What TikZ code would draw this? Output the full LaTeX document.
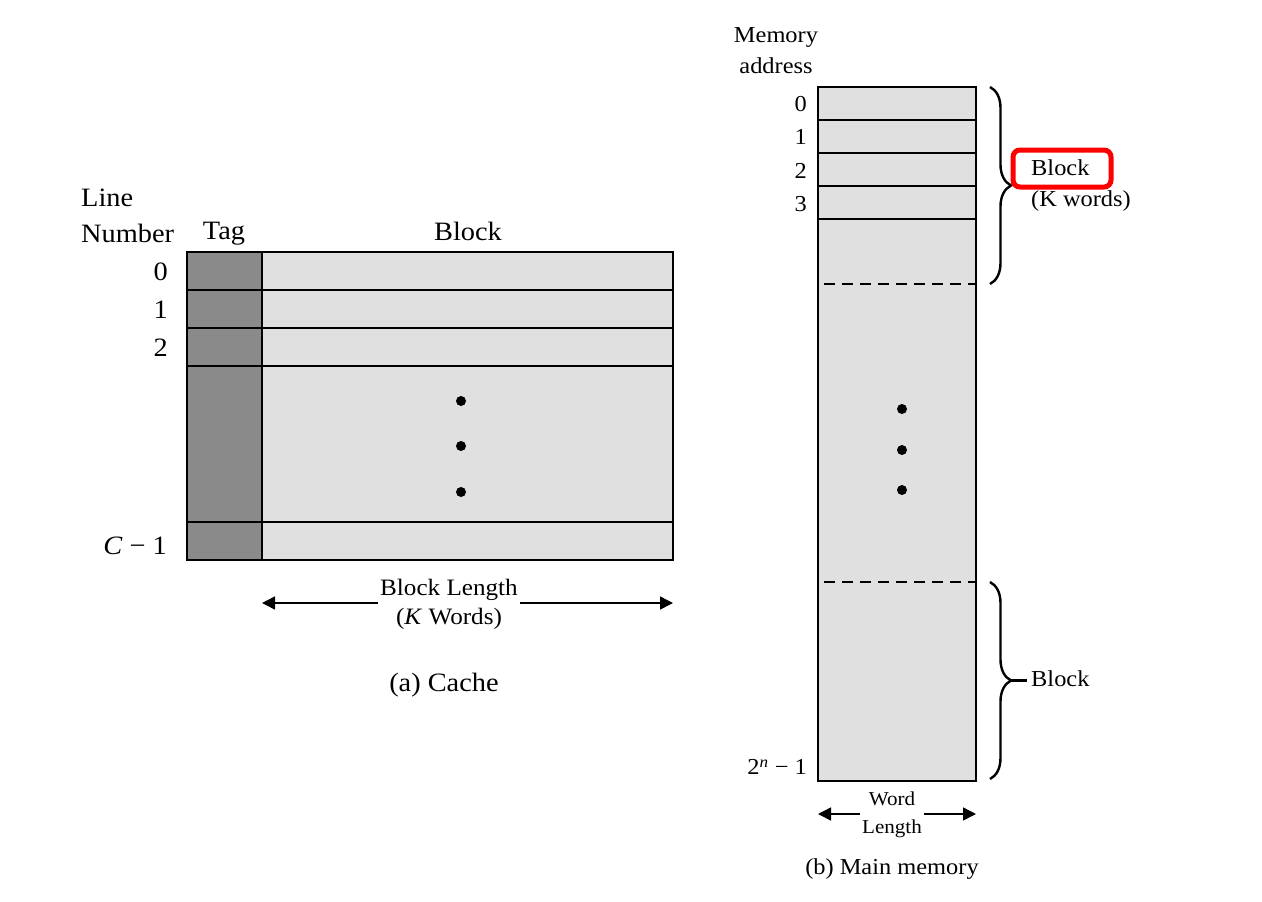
\documentclass[tikz,border=0pt]{standalone}
\usepackage{fontspec}
\setmainfont{Liberation Serif}[FakeStretch=1.07]
\usetikzlibrary{arrows.meta,decorations.pathreplacing}
\definecolor{tagfill}{HTML}{8A8A8A}
\definecolor{cellfill}{HTML}{E0E0E0}
\begin{document}
\begin{tikzpicture}[x=1pt,y=-1pt,
  cell/.style={draw=black,line width=1.5pt,fill=cellfill},
  tagcell/.style={draw=black,line width=1.5pt,fill=tagfill},
  sep/.style={draw=black,line width=1.5pt},
  dashsep/.style={draw=black,line width=1.3pt,dash pattern=on 11pt off 7pt},
  dotmark/.style={fill=black},
  lbl/.style={inner sep=1pt,font=\fontsize{26.5}{36}\selectfont},
  mlbl/.style={inner sep=1pt,font=\fontsize{22.8}{31}\selectfont},
  bllbl/.style={inner sep=2pt,font=\fontsize{23.5}{29}\selectfont},
  slbl/.style={inner sep=2pt,font=\fontsize{19.7}{28}\selectfont},
  dimarrow/.style={line width=1.5pt,-{Triangle[length=13pt,width=13pt]}},
  bracestyle/.style={line width=2.4pt,decorate,decoration={brace,amplitude=21pt}}
]
\useasboundingbox (0,0) rectangle (1262,902);

% ---------- Cache ----------
\path[cell] (262,252) rectangle (673,560);
\path[tagcell] (187,252) rectangle (262,560);
\foreach \yy in {290,328,366,522}{
  \draw[sep] (187,\yy) -- (673,\yy);
}
\foreach \yy in {401,446,492}{
  \fill[dotmark] (461,\yy) circle (5);
}
\node[lbl,anchor=west,align=left] (linenum) at (80,216) {Line\\Number};
\node[lbl] (taglbl) at (224,234) {Tag};
\node[lbl] (blocklbl) at (468,231) {Block};
\node[lbl,anchor=east] (l0) at (169,272) {0};
\node[lbl,anchor=east] (l1) at (169,310) {1};
\node[lbl,anchor=east] (l2) at (169,348) {2};
\node[lbl,anchor=east] (lc) at (168,546) {\textit{C} − 1};

\node[bllbl,align=center] (blen) at (449,604) {Block Length\\(\textit{K} Words)};
\coordinate (blL) at (262,603);
\coordinate (blR) at (673,603);
\draw[dimarrow] (blen.west |- blL) -- (blL);
\draw[dimarrow] (blen.east |- blR) -- (blR);
\node[lbl] (capa) at (444,685) {(a) Cache};

% ---------- Main memory ----------
\path[cell] (818,87) rectangle (976,781);
\foreach \yy in {120,153,186,219}{
  \draw[sep] (818,\yy) -- (976,\yy);
}
\draw[dashsep] (824,284) -- (976,284);
\draw[dashsep] (824,582) -- (976,582);
\foreach \yy in {409,450,490}{
  \fill[dotmark] (902,\yy) circle (5);
}
\node[mlbl,align=center] (memaddr) at (776,51) {Memory\\address};
\node[mlbl,anchor=east] (m0) at (808,104) {0};
\node[mlbl,anchor=east] (m1) at (808,137) {1};
\node[mlbl,anchor=east] (m2) at (808,171) {2};
\node[mlbl,anchor=east] (m3) at (808,204) {3};
\node[mlbl,anchor=east] (mlast) at (808,767) {2\textsuperscript{\textit{n}} − 1};

\coordinate (b1top) at (990,87);
\coordinate (b1bot) at (990,284);
\coordinate (b2top) at (990,582);
\coordinate (b2bot) at (990,779);
\draw[bracestyle] (b1top) -- (b1bot);
\draw[bracestyle] (b2top) -- (b2bot);
\coordinate (b2tip) at (1011,680.5);
\coordinate (b2end) at (1027,680.5);
\draw[line width=2.4pt] (b2tip) -- (b2end);

\node[mlbl,anchor=west,align=left] (blockk) at (1030,186) {Block\\(K words)};
\draw[red,line width=5pt,rounded corners=7pt] (1013,150) rectangle (1111,187);
\node[mlbl,anchor=west] (block2) at (1030,679) {Block};

\node[slbl,align=center] (wlen) at (892,815) {Word\\Length};
\coordinate (wlL) at (818,814);
\coordinate (wlR) at (976,814);
\draw[dimarrow] (wlen.west |- wlL) -- (wlL);
\draw[dimarrow] (wlen.east |- wlR) -- (wlR);
\node[mlbl] (capb) at (892,869) {(b) Main memory};
\end{tikzpicture}
\end{document}
